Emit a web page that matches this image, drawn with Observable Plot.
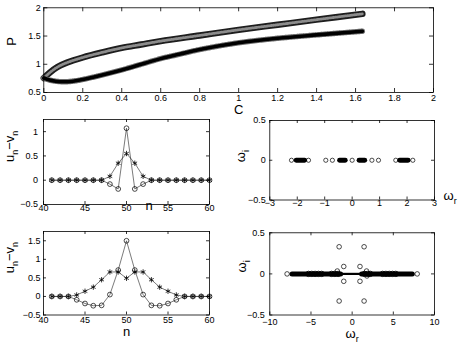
<!DOCTYPE html>
<html><head><meta charset="utf-8">
<script src="https://cdn.jsdelivr.net/npm/d3@7"></script>
<script src="https://cdn.jsdelivr.net/npm/@observablehq/plot@0.6"></script>
<style>
body{margin:0;background:#fff}
#fig{position:relative;width:463px;height:345px;overflow:hidden;background:#fff}
#fig svg{position:absolute;left:0;top:0}
</style></head><body><div id="fig"></div>
<script>
// ---------- data ----------
// top panel: P versus C
const topCircC = [0, 0.03, 0.07, 0.12, 0.2, 0.3, 0.4, 0.5, 0.6, 0.8, 1.0, 1.2, 1.4, 1.635];
const topCircP = [0.756, 0.85, 0.95, 1.03, 1.12, 1.21, 1.29, 1.35, 1.41, 1.51, 1.61, 1.70, 1.79, 1.893];
const topStarC = [0, 0.03, 0.06, 0.1, 0.15, 0.2, 0.3, 0.4, 0.5, 0.6, 0.7, 0.8, 1.0, 1.2, 1.4, 1.635];
const topStarP = [0.756, 0.72, 0.70, 0.69, 0.70, 0.73, 0.81, 0.90, 1.00, 1.10, 1.18, 1.26, 1.38, 1.46, 1.52, 1.585];
const topXTicks = [0, 0.2, 0.4, 0.6, 0.8, 1, 1.2, 1.4, 1.6, 1.8, 2];
const topXLabels = ["0", "0.2", "0.4", "0.6", "0.8", "1", "1.2", "1.4", "1.6", "1.8", "2"];
const topYTicks = [0.5, 1, 1.5, 2];
const topYLabels = ["0.5", "1", "1.5", "2"];

// profiles u_n - v_n
const nSites = [41,42,43,44,45,46,47,48,49,50,51,52,53,54,55,56,57,58,59,60];
const midCirc = [0,0,0,0,0,0,0,-0.08,-0.18,1.07,-0.18,-0.08,0,0,0,0,0,0,0,0];
const midStar = [0,0,0,0,0,0,0,0.08,0.35,0.55,0.35,0.08,0,0,0,0,0,0,0,0];
const botCirc = [0,0,0,-0.09,-0.19,-0.25,-0.24,0.05,0.71,1.5,0.71,0.05,-0.24,-0.25,-0.19,-0.09,0,0,0,0];
const botStar = [0,0,0,0.04,0.14,0.25,0.45,0.66,0.66,0.49,0.66,0.66,0.45,0.25,0.14,0.04,0,0,0,0];
const nTicks = [40, 45, 50, 55, 60];
const nLabels = ["40", "45", "50", "55", "60"];
const midYTicks = [-0.5, 0, 0.5, 1];
const midYLabels = ["\u22120.5", "0", "0.5", "1"];
const botYTicks = [-0.5, 0, 0.5, 1, 1.5];
const botYLabels = ["\u22120.5", "0", "0.5", "1", "1.5"];

// spectra
const specMidR = [-2.21, -1.59, -0.96, -0.72, 0, 0.72, 0.96, 1.59, 2.21];
const specMidI = [0, 0, 0, 0, 0, 0, 0, 0, 0];
const specMidBlobStart = [-2.04, -0.46, 0.25, 1.73];
const specMidBlobEnd = [-1.73, -0.25, 0.46, 2.04];
const specMidBlobI = [0, 0, 0, 0];
const specMidXTicks = [-3, -2, -1, 0, 1, 2, 3];
const specMidXLabels = ["\u22123", "\u22122", "\u22121", "0", "1", "2", "3"];
const specYTicks = [-0.5, 0, 0.5];
const specYLabels = ["\u22120.5", "0", "0.5"];

const specBotR = [-7.9, 7.9, -1.58, -1.58, 1.45, 1.45, -1.02, -1.02, 0.95, 0.95, -1.8, 1.75, 1.8];
const specBotI = [0, 0, 0.33, -0.33, 0.33, -0.33, 0.09, -0.09, 0.09, -0.09, 0.035, 0.035, -0.025];
const specBotBandStart = [-7.3, 1.15];
const specBotBandEnd = [-1.4, 7.3];
const specBotCoreStart = [-1.4];
const specBotCoreEnd = [1.15];
const specBotClusterR = [-5.3, -4.9, -4.5, -4.1, -3.7, -2.5, -2.1, -1.7, 1.5, 1.9, 2.2, 3.7, 4.1, 4.5, 4.9, 5.3];
const specBotXTicks = [-10, -5, 0, 5, 10];
const specBotXLabels = ["\u221210", "\u22125", "0", "5", "10"];

// ---------- helpers ----------
const W = 463, H = 345;
const FONT = "'Liberation Sans', Arial, Helvetica, sans-serif";
const TICKFONT = 9;
const zip = (xs, ys) => xs.map((x, i) => ({x, y: ys[i]}));
const lab = (vs, ls) => vs.map((v, i) => ({v, l: ls[i]}));

function panel({frame, xd, yd, marks, xt, xl, yt, yl, tick = 3, xdy = 8, ydx = -3, labels = []}) {
  const [x0, x1, y0, y1] = frame;
  const fw = x1 - x0, fh = y1 - y0;
  return Plot.plot({
    width: W, height: H,
    marginLeft: x0, marginRight: W - x1, marginTop: y0, marginBottom: H - y1,
    x: {domain: xd, axis: null},
    y: {domain: yd, axis: null},
    style: {background: "transparent", fontFamily: FONT, color: "#000"},
    marks: [
      ...marks,
      Plot.frame({stroke: "#000", strokeWidth: 0.8}),
      Plot.tickX(xt, {x: d => d, insetTop: fh - tick, stroke: "#000", strokeWidth: 0.8}),
      Plot.tickX(xt, {x: d => d, insetBottom: fh - tick, stroke: "#000", strokeWidth: 0.8}),
      Plot.tickY(yt, {y: d => d, insetRight: fw - tick, stroke: "#000", strokeWidth: 0.8}),
      Plot.tickY(yt, {y: d => d, insetLeft: fw - tick, stroke: "#000", strokeWidth: 0.8}),
      Plot.text(lab(xt, xl), {x: "v", text: "l", frameAnchor: "bottom", dy: xdy, fontSize: TICKFONT, fill: "#000"}),
      Plot.text(lab(yt, yl), {y: "v", text: "l", frameAnchor: "left", dx: ydx, textAnchor: "end", fontSize: TICKFONT, fill: "#000"}),
      ...labels
    ]
  });
}
function label(t, o) {
  return Plot.text([t], {text: d => d, fontSize: 13, fill: "#000", ...o});
}
function subscriptify(svg) {
  d3.select(svg).selectAll("text").each(function () {
    const t = this.textContent;
    if (!t.includes("_")) return;
    const el = d3.select(this);
    el.text(null);
    let sub = false;
    for (const p of t.split(/(_.)/)) {
      if (!p) continue;
      if (p[0] === "_") {
        el.append("tspan").attr("dy", 4).attr("font-size", 9).text(p[1]);
        sub = true;
      } else {
        const ts = el.append("tspan").text(p);
        if (sub) ts.attr("dy", -4);
        sub = false;
      }
    }
  });
}

function profileMarks(circ, star) {
  const c = zip(nSites, circ), s = zip(nSites, star);
  return [
    Plot.line(c, {x: "x", y: "y", stroke: "#222", strokeWidth: 0.6}),
    Plot.line(s, {x: "x", y: "y", stroke: "#222", strokeWidth: 0.6}),
    Plot.dot(c, {x: "x", y: "y", r: 2.4, stroke: "#000", strokeWidth: 0.7, fill: "none"}),
    Plot.dot(s, {x: "x", y: "y", r: 2.5, symbol: "asterisk", stroke: "#000", strokeWidth: 0.8})
  ];
}

const fig = document.getElementById("fig");

// top panel
const upper = zip(topCircC, topCircP), lower = zip(topStarC, topStarP);
fig.append(panel({
  frame: [43.3, 433, 7.3, 92], xd: [0, 2], yd: [0.5, 2],
  xt: topXTicks, xl: topXLabels, yt: topYTicks, yl: topYLabels, tick: 4, xdy: 8,
  marks: [
    Plot.line(upper, {x: "x", y: "y", curve: "catmull-rom", stroke: "#1e1e1e", strokeWidth: 6.4, strokeLinecap: "round"}),
    Plot.line(upper, {x: "x", y: "y", curve: "catmull-rom", stroke: "#8c8c8c", strokeWidth: 2.8, strokeDasharray: "1.2 1.2"}),
    Plot.line(lower, {x: "x", y: "y", curve: "catmull-rom", stroke: "#707070", strokeWidth: 5.4, strokeDasharray: "1 1", strokeLinecap: "round"}),
    Plot.line(lower, {x: "x", y: "y", curve: "catmull-rom", stroke: "#000", strokeWidth: 3.6, strokeLinecap: "round"})
  ],
  labels: [
    label("P", {frameAnchor: "left", dx: -32, dy: -4.5, rotate: -90}),
    label("C", {frameAnchor: "bottom", dy: 21.5})
  ]
}));

// middle-left
fig.append(panel({
  frame: [43, 209, 119, 204], xd: [40, 60], yd: [-0.5, 1.25],
  xt: nTicks, xl: nLabels, yt: midYTicks, yl: midYLabels, xdy: 6.5, ydx: -5.5,
  marks: profileMarks(midCirc, midStar),
  labels: [
    label("u_n\u2212v_n", {frameAnchor: "left", dx: -34, dy: 0, rotate: -90}),
    label("n", {frameAnchor: "bottom-left", dx: 102, dy: 5})
  ]
}));

// bottom-left
fig.append(panel({
  frame: [43, 209, 231, 314.5], xd: [40, 60], yd: [-0.5, 1.75],
  xt: nTicks, xl: nLabels, yt: botYTicks, yl: botYLabels, xdy: 8,
  marks: profileMarks(botCirc, botStar),
  labels: [
    label("u_n\u2212v_n", {frameAnchor: "left", dx: -34, dy: 0, rotate: -90}),
    label("n", {frameAnchor: "bottom", dy: 21.2})
  ]
}));

// middle-right
fig.append(panel({
  frame: [269.3, 434, 120, 199.5], xd: [-3, 3], yd: [-0.5, 0.5],
  xt: specMidXTicks, xl: specMidXLabels, yt: specYTicks, yl: specYLabels, xdy: 5.5, ydx: -4,
  marks: [
    Plot.link(specMidBlobStart.map((s, i) => ({x1: s, x2: specMidBlobEnd[i], y: specMidBlobI[i]})),
      {x1: "x1", x2: "x2", y1: "y", y2: "y", stroke: "#000", strokeWidth: 4.8, strokeLinecap: "round"}),
    Plot.dot(zip(specMidR, specMidI), {x: "x", y: "y", r: 2.1, stroke: "#000", strokeWidth: 0.7, fill: "none"})
  ],
  labels: [
    label("\u03c9_i", {frameAnchor: "left", dx: -29, dy: 2, rotate: -90}),
    label("\u03c9_r", {frameAnchor: "bottom-right", dx: 9, dy: 0, textAnchor: "start"})
  ]
}));

// bottom-right
fig.append(panel({
  frame: [269.3, 434, 232.3, 314.5], xd: [-10, 10], yd: [-0.5, 0.5],
  xt: specBotXTicks, xl: specBotXLabels, yt: specYTicks, yl: specYLabels, xdy: 10, ydx: -5,
  marks: [
    Plot.link(specBotBandStart.map((s, i) => ({x1: s, x2: specBotBandEnd[i], y: 0})),
      {x1: "x1", x2: "x2", y1: "y", y2: "y", stroke: "#000", strokeWidth: 5, strokeLinecap: "round"}),
    Plot.link(specBotCoreStart.map((s, i) => ({x1: s, x2: specBotCoreEnd[i], y: 0})),
      {x1: "x1", x2: "x2", y1: "y", y2: "y", stroke: "#000", strokeWidth: 2.2}),
    Plot.dot(specBotClusterR, {x: d => d, y: () => 0, r: 2.7, stroke: "#000", strokeWidth: 0.9, fill: "none"}),
    Plot.dot(zip(specBotR, specBotI), {x: "x", y: "y", r: 2.3, stroke: "#000", strokeWidth: 0.7, fill: "none"})
  ],
  labels: [
    label("\u03c9_i", {frameAnchor: "left", dx: -28, dy: -1.5, rotate: -90}),
    label("\u03c9_r", {frameAnchor: "bottom", dy: 22.8})
  ]
}));

fig.querySelectorAll("svg").forEach(subscriptify);
</script></body></html>
